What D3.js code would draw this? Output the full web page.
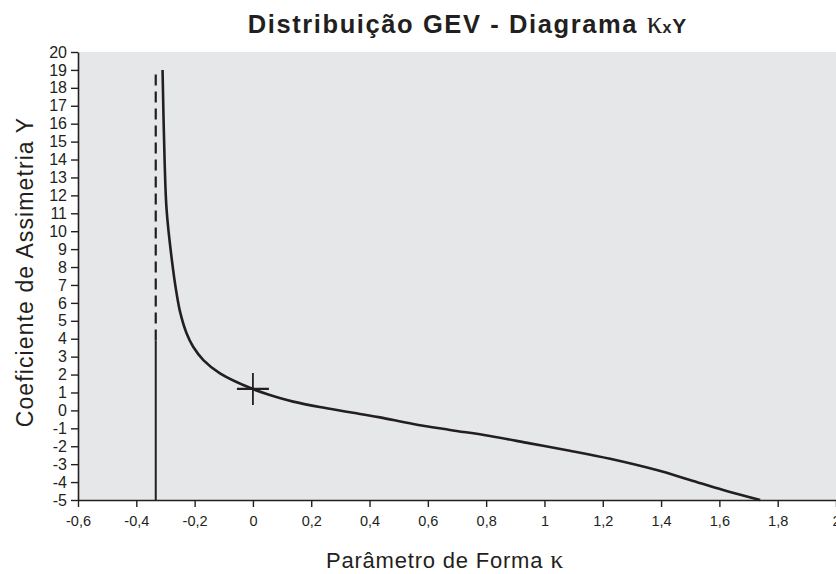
<!DOCTYPE html>
<html>
<head>
<meta charset="utf-8">
<script src="https://cdn.jsdelivr.net/npm/d3@7/dist/d3.min.js"></script>
<style>
  html, body { margin: 0; padding: 0; background: #fff; }
  svg { display: block; font-family: "Liberation Sans", Arial, sans-serif; }
</style>
</head>
<body>
<svg id="chart" width="836" height="574"></svg>
<script>
// Skewness curve of the GEV distribution (shape κ vs. skewness γ)
const kappaValues = [-0.310, -0.303, -0.296, -0.278, -0.262, -0.249, -0.228, -0.205, -0.170, -0.113,
  0.000, 0.058, 0.138, 0.253, 0.367, 0.436, 0.550, 0.676, 0.813, 0.950, 1.087, 1.225, 1.385, 1.499, 1.613, 1.740];
const gammaValues = [19.0, 13.97, 11.18, 8.39, 6.55, 5.44, 4.32, 3.55, 2.81, 2.07,
  1.19, 0.86, 0.49, 0.12, -0.20, -0.39, -0.76, -1.09, -1.43, -1.84, -2.25, -2.70, -3.33, -3.88, -4.44, -5.0];

// Asymptote at κ = -1/3: solid part and dashed continuation
const asymptoteKappa = -1 / 3;
const asymptoteSolid = [-5, 3.9];
const asymptoteDashed = [3.9, 19.0];

// Gumbel point (κ = 0) marker
const markerPoint = { kappa: 0, gamma: 1.2 };

const xTicks = [-0.6, -0.4, -0.2, 0, 0.2, 0.4, 0.6, 0.8, 1, 1.2, 1.4, 1.6, 1.8, 2];
const yTicks = d3.range(-5, 21, 1);

const svg = d3.select("#chart");
const W = 836, H = 574;
const margin = { left: 78, right: 0, top: 52, bottom: 74 };

const x = d3.scaleLinear().domain([-0.6, 2]).range([margin.left, W - margin.right]);
const y = d3.scaleLinear().domain([-5, 20]).range([H - margin.bottom, margin.top]);

const ink = "#231f20";
const ptBR = d3.formatLocale({ decimal: ",", thousands: ".", grouping: [3], currency: ["R$", ""], minus: "-" });
const fmt = ptBR.format("~g");

// Plot background
svg.append("rect")
  .attr("x", x(-0.6)).attr("y", y(20))
  .attr("width", x(2) - x(-0.6)).attr("height", y(-5) - y(20))
  .attr("fill", "#e6e7e8");

// Axes
const xAxis = svg.append("g")
  .attr("transform", `translate(0,${y(-5)})`)
  .call(d3.axisBottom(x).tickValues(xTicks).tickFormat(fmt).tickSize(7).tickPadding(9).tickSizeOuter(0));
const yAxis = svg.append("g")
  .attr("transform", `translate(${x(-0.6)},0)`)
  .call(d3.axisLeft(y).tickValues(yTicks).tickFormat(fmt).tickSize(7).tickPadding(4).tickSizeOuter(0));

[xAxis, yAxis].forEach(g => {
  g.attr("font-family", "'Liberation Sans', Arial, sans-serif");
  g.select(".domain").attr("stroke", ink).attr("stroke-width", 1.6);
  g.selectAll(".tick line").attr("stroke", ink).attr("stroke-width", 1.4);
  g.selectAll(".tick text").attr("fill", ink);
});
xAxis.attr("font-size", 14.5);
yAxis.attr("font-size", 16);

// Asymptote
svg.append("line")
  .attr("x1", x(asymptoteKappa)).attr("x2", x(asymptoteKappa))
  .attr("y1", y(asymptoteSolid[0])).attr("y2", y(asymptoteSolid[1]))
  .attr("stroke", ink).attr("stroke-width", 2);
svg.append("line")
  .attr("x1", x(asymptoteKappa)).attr("x2", x(asymptoteKappa))
  .attr("y1", y(asymptoteDashed[0])).attr("y2", y(asymptoteDashed[1]))
  .attr("stroke", ink).attr("stroke-width", 2.2)
  .attr("stroke-dasharray", "11 6");

// Skewness curve
const curveData = kappaValues.map((k, i) => [k, gammaValues[i]]);
svg.append("path")
  .datum(curveData)
  .attr("fill", "none")
  .attr("stroke", ink)
  .attr("stroke-width", 2.6)
  .attr("stroke-linejoin", "round")
  .attr("d", d3.line().x(d => x(d[0])).y(d => y(d[1])).curve(d3.curveCatmullRom.alpha(0.5)));

// Cross marker at κ = 0
const mx = x(markerPoint.kappa), my = y(markerPoint.gamma);
svg.append("line").attr("x1", mx - 16).attr("x2", mx + 16).attr("y1", my).attr("y2", my)
  .attr("stroke", ink).attr("stroke-width", 2.2);
svg.append("line").attr("x1", mx).attr("x2", mx).attr("y1", my - 16).attr("y2", my + 16)
  .attr("stroke", ink).attr("stroke-width", 1.8);

// Title
const title = svg.append("text")
  .attr("x", 467).attr("y", 33)
  .attr("text-anchor", "middle")
  .attr("fill", ink)
  .style("font-size", "25.5px").style("font-weight", "bold").style("letter-spacing", "1.6px");
title.append("tspan").text("Distribuição GEV - Diagrama ");
title.append("tspan").style("font-family", "'Liberation Serif', serif").style("font-weight", "normal")
  .style("font-size", "31px").style("letter-spacing", "0px").text("κ");
title.append("tspan").style("font-size", "16px").style("letter-spacing", "1px").text("x");
title.append("tspan").style("font-size", "21px").style("letter-spacing", "0px").text("Υ");

// Axis titles
const xLabel = svg.append("text")
  .attr("x", 445).attr("y", 568)
  .attr("text-anchor", "middle").attr("fill", ink)
  .style("font-size", "22px").style("letter-spacing", "0.8px");
xLabel.append("tspan").text("Parâmetro de Forma ");
xLabel.append("tspan").style("font-family", "'Liberation Serif', serif").style("font-size", "26px").text("κ");

svg.append("text")
  .attr("transform", "translate(33,272) rotate(-90)")
  .attr("text-anchor", "middle").attr("fill", ink)
  .style("font-size", "23px").style("letter-spacing", "1.1px")
  .text("Coeficiente de Assimetria Y");
</script>
</body>
</html>
